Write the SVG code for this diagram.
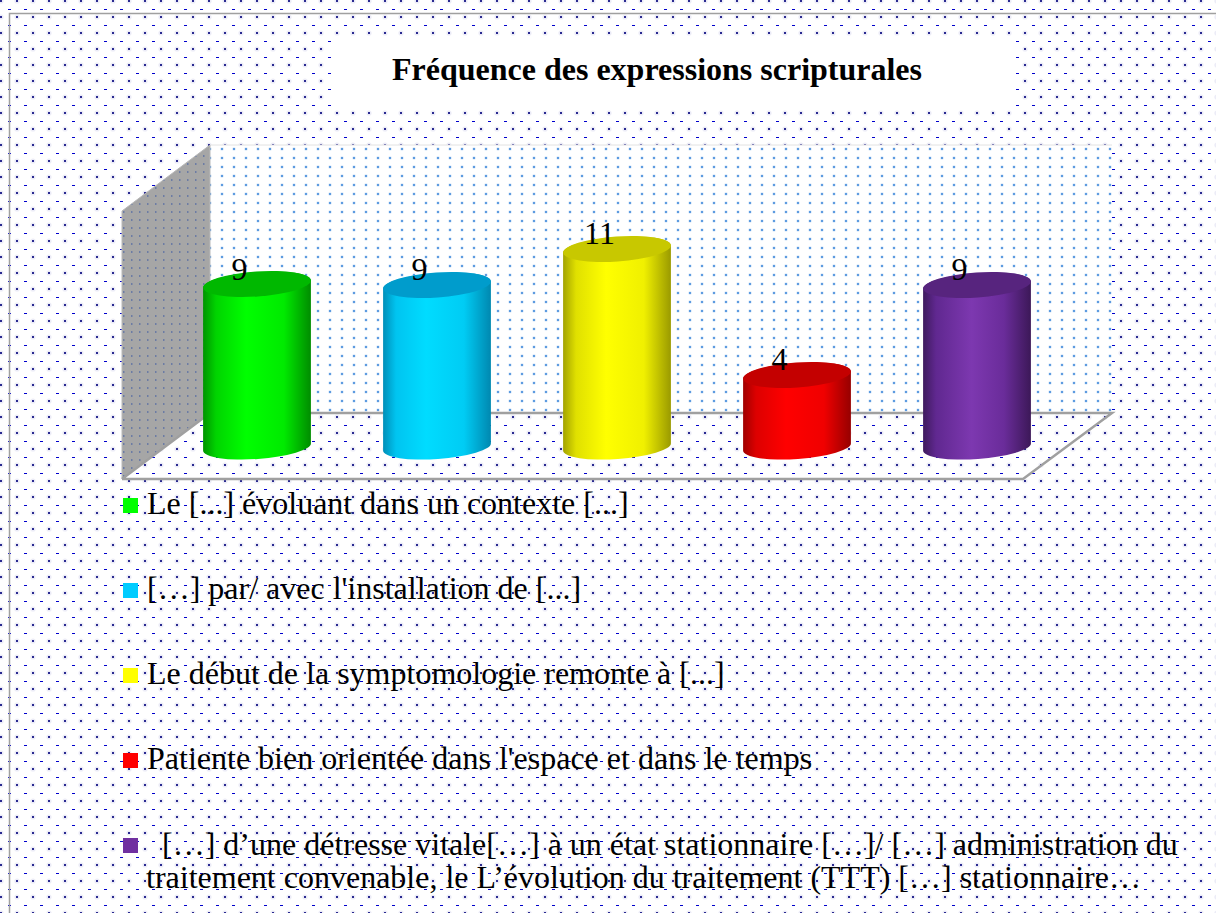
<svg xmlns="http://www.w3.org/2000/svg" width="1216" height="913" viewBox="0 0 1216 913">
<defs>
<style>
.lbl{font-family:"Liberation Serif","Times New Roman",serif;font-size:32px;fill:#000}
.title{font-family:"Liberation Serif","Times New Roman",serif;font-size:32px;font-weight:bold;fill:#000}
.val{font-family:"Liberation Serif","Times New Roman",serif;font-size:32px;fill:#000;text-anchor:middle}
.edge{fill:none;stroke:#a0a0a0;stroke-width:2.5}
</style>
<pattern id="bg" x="8" y="8" width="16" height="16" patternUnits="userSpaceOnUse">
<rect width="16" height="16" fill="#fff"/>
<circle cx="9" cy="9" r="2.6" fill="#ececf7"/>
<rect x="8" y="8" width="2" height="2" fill="#2a2a90"/>
<rect x="0" y="1" width="3" height="1" fill="#0000cc"/>
</pattern>
<pattern id="wall" x="0" y="0" width="12" height="9" patternUnits="userSpaceOnUse">
<rect width="12" height="9" fill="#fff"/>
<circle cx="6" cy="5" r="1.8" fill="#d6e6f8"/>
<rect x="5" y="4" width="2" height="2" fill="#5d9be0"/>
</pattern>
<pattern id="side" x="0" y="0" width="8" height="8" patternUnits="userSpaceOnUse">
<rect width="8" height="8" fill="#a6a6a6"/>
<rect x="3" y="3" width="1.5" height="2" fill="#6c7ca4"/>
</pattern>
<linearGradient id="gG" x1="0" y1="0" x2="1" y2="0">
<stop offset="0" stop-color="#009400"/><stop offset="0.12" stop-color="#00d400"/><stop offset="0.4" stop-color="#00ff00"/><stop offset="0.75" stop-color="#00ea00"/><stop offset="1" stop-color="#008c00"/>
</linearGradient>
<linearGradient id="gC" x1="0" y1="0" x2="1" y2="0">
<stop offset="0" stop-color="#008fb8"/><stop offset="0.12" stop-color="#00c4f0"/><stop offset="0.4" stop-color="#00dcff"/><stop offset="0.75" stop-color="#00ccf4"/><stop offset="1" stop-color="#0088b0"/>
</linearGradient>
<linearGradient id="gY" x1="0" y1="0" x2="1" y2="0">
<stop offset="0" stop-color="#a3a300"/><stop offset="0.12" stop-color="#e0e000"/><stop offset="0.4" stop-color="#ffff00"/><stop offset="0.75" stop-color="#f0f000"/><stop offset="1" stop-color="#9a9a00"/>
</linearGradient>
<linearGradient id="gR" x1="0" y1="0" x2="1" y2="0">
<stop offset="0" stop-color="#a00000"/><stop offset="0.12" stop-color="#dd0000"/><stop offset="0.4" stop-color="#ff0000"/><stop offset="0.75" stop-color="#f00000"/><stop offset="1" stop-color="#960000"/>
</linearGradient>
<linearGradient id="gP" x1="0" y1="0" x2="1" y2="0">
<stop offset="0" stop-color="#3f1a5e"/><stop offset="0.12" stop-color="#602890"/><stop offset="0.45" stop-color="#7d38b0"/><stop offset="0.75" stop-color="#6a2c9a"/><stop offset="1" stop-color="#3c1858"/>
</linearGradient>
</defs>

<g id="background">
<rect x="0" y="0" width="1216" height="913" fill="url(#bg)"/>
<rect x="9.5" y="13.5" width="1220" height="910" fill="none" stroke="#a0a0a0" stroke-width="1.5"/>
</g>

<g id="title">
<rect x="334" y="38" width="681" height="70" fill="#fff"/>
<text class="title" x="657" y="80" text-anchor="middle">Fréquence des expressions scripturales</text>
</g>

<g id="plot-area">
<rect x="210" y="145" width="902" height="268" fill="url(#wall)"/>
<line x1="210" y1="145" x2="1112" y2="145" stroke="#e2e2e2" stroke-width="1"/>
<polygon points="122,211 210,145 210,413 122,479" fill="url(#side)" stroke="#b8b8b8" stroke-width="1"/>
<polyline class="edge" points="122,479 210,413 1112,413 1023,479 122,479"/>
</g>

<g id="bar-1">
<path d="M203.1,287.8 L203.1,450.8 A54,12 -4 0 0 310.9,443.2 L310.9,280.2 A54,12 -4 0 0 203.1,287.8 Z" fill="url(#gG)"/>
<ellipse cx="257" cy="284" rx="54" ry="12.5" transform="rotate(-4 257 284)" fill="#00b800"/>
<text class="val" x="239.5" y="280">9</text>
</g>

<g id="bar-2">
<path d="M383.1,288.8 L383.1,450.8 A54,12 -4 0 0 490.9,443.2 L490.9,281.2 A54,12 -4 0 0 383.1,288.8 Z" fill="url(#gC)"/>
<ellipse cx="437" cy="285" rx="54" ry="12.5" transform="rotate(-4 437 285)" fill="#009ccc"/>
<text class="val" x="419.5" y="280">9</text>
</g>

<g id="bar-3">
<path d="M563.1,252.8 L563.1,450.8 A54,12 -4 0 0 670.9,443.2 L670.9,245.2 A54,12 -4 0 0 563.1,252.8 Z" fill="url(#gY)"/>
<ellipse cx="617" cy="249" rx="54" ry="12.5" transform="rotate(-4 617 249)" fill="#c8c800"/>
<text class="val" x="599.5" y="244">11</text>
</g>

<g id="bar-4">
<path d="M743.1,378.8 L743.1,450.8 A54,12 -4 0 0 850.9,443.2 L850.9,371.2 A54,12 -4 0 0 743.1,378.8 Z" fill="url(#gR)"/>
<ellipse cx="797" cy="375" rx="54" ry="12.5" transform="rotate(-4 797 375)" fill="#c40000"/>
<text class="val" x="779.5" y="370">4</text>
</g>

<g id="bar-5">
<path d="M923.1,288.8 L923.1,450.8 A54,12 -4 0 0 1030.9,443.2 L1030.9,281.2 A54,12 -4 0 0 923.1,288.8 Z" fill="url(#gP)"/>
<ellipse cx="977" cy="285" rx="54" ry="12.5" transform="rotate(-4 977 285)" fill="#57247e"/>
<text class="val" x="959.5" y="280">9</text>
</g>

<g id="legend-1">
<rect x="123" y="498" width="15" height="15" fill="#00ff00"/>
<text class="lbl" x="147" y="514">Le [...] évoluant dans un contexte [...]</text>
</g>
<g id="legend-2">
<rect x="123" y="583" width="15" height="15" fill="#00ccff"/>
<text class="lbl" x="147" y="599">[…] par/ avec l'installation de [...]</text>
</g>
<g id="legend-3">
<rect x="123" y="668" width="15" height="15" fill="#ffff00"/>
<text class="lbl" x="147" y="684">Le début de la symptomologie remonte à [...]</text>
</g>
<g id="legend-4">
<rect x="123" y="753" width="15" height="15" fill="#ff0000"/>
<text class="lbl" x="147" y="769">Patiente bien orientée dans l'espace et dans le temps</text>
</g>
<g id="legend-5">
<rect x="123" y="838" width="15" height="15" fill="#7030a0"/>
<text class="lbl" x="162" y="855">[…] d’une détresse vitale[…] à un état stationnaire […]/ […] administration du</text>
<text class="lbl" x="146" y="888">traitement convenable, le L’évolution du traitement (TTT) […] stationnaire…</text>
</g>
</svg>
